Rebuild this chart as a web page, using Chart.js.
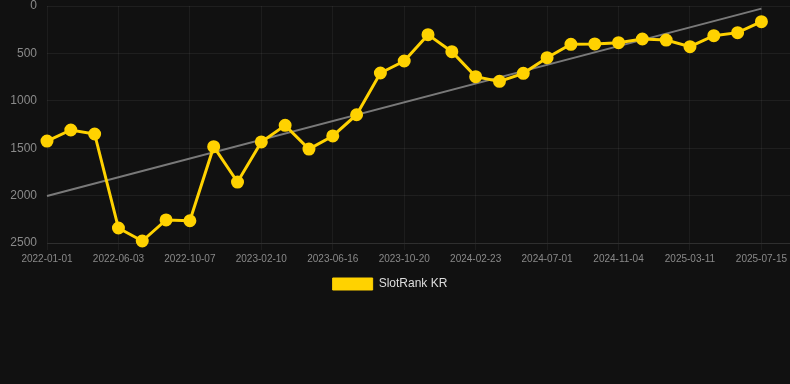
<!DOCTYPE html>
<html>
<head>
<meta charset="utf-8">
<script src="https://cdn.jsdelivr.net/npm/chart.js@4/dist/chart.umd.min.js"></script>
<style>
  html, body { margin: 0; padding: 0; background: #111111; }
  #wrap { width: 790px; height: 300px; position: relative; }
</style>
</head>
<body>
<div id="wrap"><canvas id="c"></canvas></div>
<script>
const dates = [
  "2022-01-01","2022-02-18","2022-04-13","2022-06-03","2022-07-15","2022-08-26",
  "2022-10-07","2022-11-18","2022-12-30","2023-02-10","2023-03-24","2023-05-05",
  "2023-06-16","2023-07-28","2023-09-08","2023-10-20","2023-12-01","2024-01-12",
  "2024-02-23","2024-04-05","2024-05-17","2024-07-01","2024-08-12","2024-09-23",
  "2024-11-04","2024-12-16","2025-01-27","2025-03-11","2025-04-22","2025-06-03",
  "2025-07-15"
];
const rankKR = [
  1425, 1308, 1350, 2342, 2479, 2257, 2265, 1484, 1857, 1434, 1259, 1509,
  1371, 1147, 707, 580, 302, 482, 745, 795, 710, 545, 404, 400,
  387, 348, 359, 429, 313, 281, 165
];
const trendStart = 2004;
const trendEnd = 28;
const yTicks = [0, 500, 1000, 1500, 2000, 2500];

const mainPts = rankKR.map((v, i) => ({ x: i, y: v }));
const trendPts = [{ x: 0, y: trendStart }, { x: dates.length - 1, y: trendEnd }];
const tickIdx = dates.map((d, i) => i).filter(i => i % 3 === 0);

new Chart(document.getElementById('c'), {
  type: 'line',
  data: {
    datasets: [
      {
        label: 'SlotRank KR',
        data: mainPts,
        borderColor: '#FFD200',
        backgroundColor: '#FFD200',
        borderWidth: 3,
        pointRadius: 5,
        pointHoverRadius: 6,
        pointBackgroundColor: '#FFD200',
        pointBorderColor: '#FFD200',
        tension: 0,
        clip: false,
        order: 1
      },
      {
        label: 'trend',
        data: trendPts,
        borderColor: 'rgba(140,140,140,0.85)',
        borderWidth: 2,
        pointRadius: 0,
        fill: false,
        clip: false,
        order: 2
      }
    ]
  },
  options: {
    responsive: true,
    maintainAspectRatio: false,
    animation: false,
    layout: { autoPadding: false, padding: { top: 6, right: 0, left: 0, bottom: 0 } },
    scales: {
      x: {
        type: 'linear',
        min: 0,
        max: 31.2,
        afterBuildTicks: (axis) => { axis.ticks = tickIdx.map(v => ({ value: v })); },
        afterFit: (axis) => { axis.paddingRight = 0; },
        ticks: {
          color: '#8a8a8a',
          font: { size: 10, family: 'Liberation Sans, Arial, sans-serif' },
          maxRotation: 0,
          autoSkip: false,
          callback: (v) => dates[v] || ''
        },
        grid: { color: 'rgba(255,255,255,0.05)', tickLength: 7 },
        border: { color: 'rgba(255,255,255,0.08)' }
      },
      y: {
        reverse: true,
        min: 0,
        max: 2500,
        afterBuildTicks: (axis) => { axis.ticks = yTicks.map(v => ({ value: v })); },
        afterFit: (axis) => { axis.paddingTop = 0; axis.width = 47; },
        ticks: {
          color: '#8a8a8a',
          font: { size: 12, family: 'Liberation Sans, Arial, sans-serif' },
          padding: 10,
          callback: (v) => String(v)
        },
        grid: { color: 'rgba(255,255,255,0.06)', drawTicks: false },
        border: { display: false }
      }
    },
    plugins: {
      legend: {
        position: 'bottom',
        labels: {
          color: '#dddddd',
          font: { size: 12, family: 'Liberation Sans, Arial, sans-serif' },
          filter: (item) => item.text.trim() === 'SlotRank KR',
          generateLabels: (chart) => {
            const items = Chart.defaults.plugins.legend.labels.generateLabels(chart);
            return items.map(it => Object.assign(it, { lineWidth: 1, text: it.text + '   ' }));
          }
        }
      },
      tooltip: { enabled: false }
    }
  }
});
</script>
</body>
</html>
